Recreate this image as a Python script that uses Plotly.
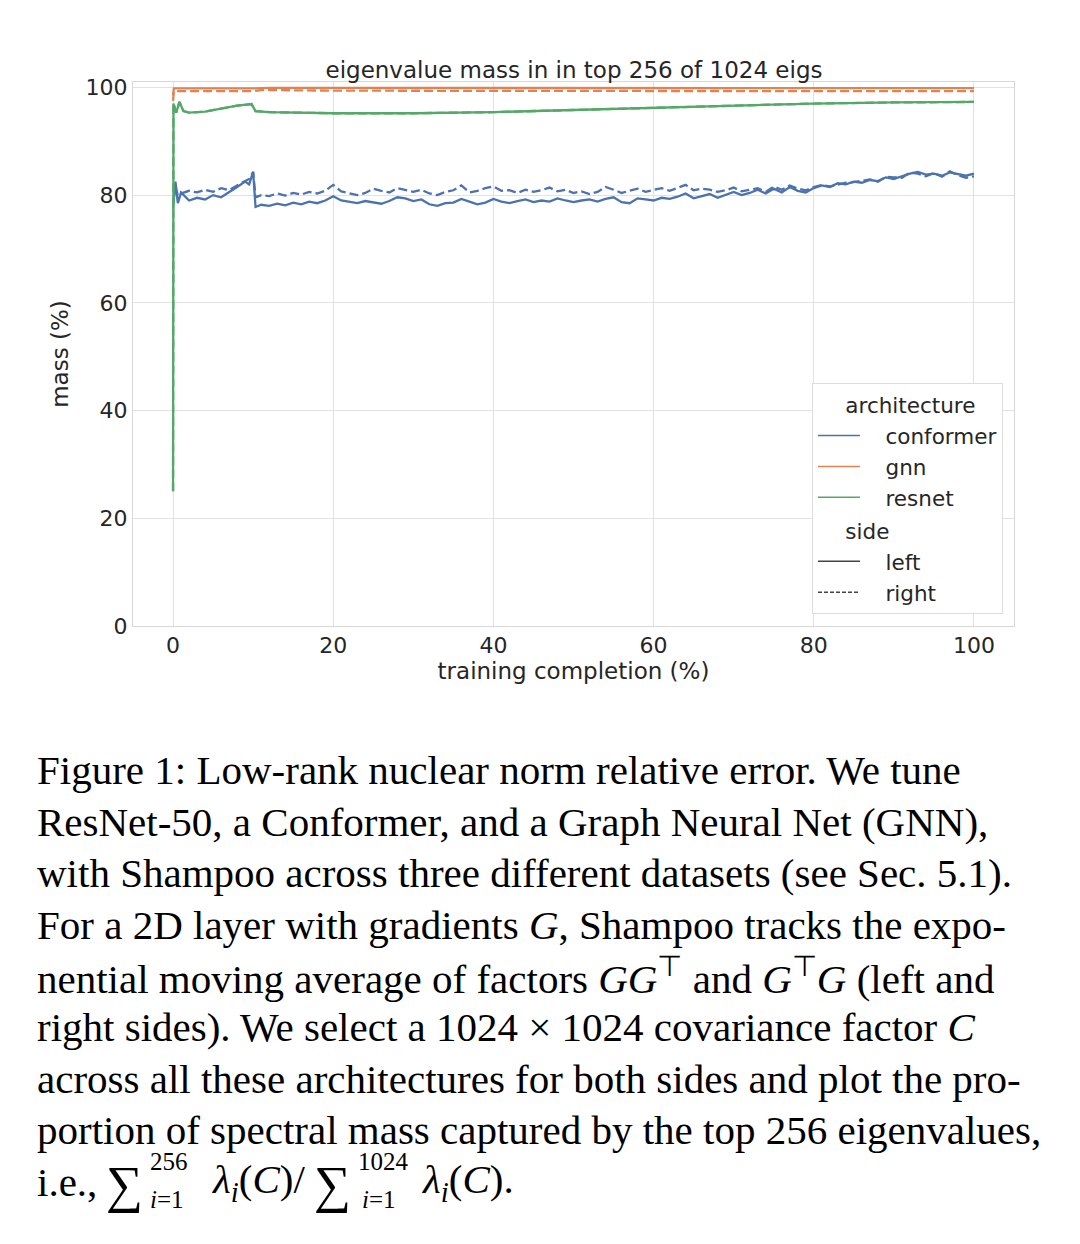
import plotly.graph_objects as go

# training completion (%) sample points
conf_x = [0, 0.3, 0.6, 1, 2, 3, 4, 5, 6, 7, 8, 9, 9.5, 10, 10.3, 11, 12, 13, 14, 15, 16, 17, 18, 19,
          20, 21, 22, 23, 24, 25, 26, 27, 28, 29, 30, 31, 32, 33, 34, 35, 36, 37, 38, 39,
          40, 41, 42, 43, 44, 45, 46, 47, 48, 49, 50, 51, 52, 53, 54, 55, 56, 57, 58, 59,
          60, 61, 62, 63, 64, 65, 66, 67, 68, 69, 70, 71, 72, 73, 74, 75, 76, 77, 78, 79,
          80, 81, 82, 83, 84, 85, 86, 87, 88, 89, 90, 91, 92, 93, 94, 95, 96, 97, 98, 99, 100]
conformer_left = [77.5, 82.5, 78.5, 80.5, 79.0, 79.5, 79.2, 80.0, 79.6, 80.5, 81.5, 82.5, 82.0, 84.3, 77.8,
                  78.2, 78.0, 78.4, 78.1, 78.6, 78.3, 78.8, 78.5, 79.0,
                  79.8, 79.0, 78.8, 78.5, 78.9, 78.6, 78.4, 78.9, 79.6, 79.4, 78.9, 79.2, 78.3, 78.0, 78.5, 78.6, 79.3, 78.8, 78.3, 78.6,
                  79.3, 78.8, 78.5, 78.9, 79.2, 78.7, 79.0, 78.8, 79.4, 79.0, 78.7, 79.0, 79.2, 78.8, 79.3, 79.6, 78.7, 78.5, 79.4, 79.2,
                  79.0, 79.5, 79.3, 79.7, 80.3, 79.4, 79.8, 80.2, 79.5, 80.0, 80.6, 80.0, 80.4, 81.0, 80.3, 81.2, 80.5, 81.5, 80.8, 80.5,
                  81.3, 81.8, 81.5, 82.2, 82.0, 82.5, 82.3, 82.8, 82.6, 83.3, 83.0, 83.5, 84.0, 84.3, 83.8, 84.0, 83.6, 84.2, 83.9, 83.6, 84.0]
conformer_right = [79.0, 81.5, 80.0, 80.3, 80.8, 80.5, 81.0, 80.6, 81.3, 80.9, 81.8, 82.5, 83.0, 84.3, 79.6,
                   80.0, 79.8, 80.3, 79.9, 80.4, 80.1, 80.6, 80.3, 80.8,
                   81.9, 80.7, 80.3, 80.0, 80.4, 81.2, 80.8, 80.5, 81.3, 80.9, 80.6, 81.0, 80.3, 80.0, 80.6, 80.9, 81.8, 80.5, 80.8, 81.3,
                   81.6, 80.8, 80.9, 80.4, 81.0, 80.6, 80.9, 81.4, 80.7, 81.0, 80.4, 80.7, 80.2, 80.6, 81.5, 81.0, 80.4, 80.8, 81.2, 80.6,
                   80.9, 81.3, 80.8, 81.4, 81.9, 80.9, 81.2, 81.0, 80.6, 80.9, 81.4, 80.7, 81.0, 81.3, 80.6, 81.6, 81.0, 81.8, 81.2, 80.9,
                   81.5, 81.9, 81.6, 82.0, 82.3, 82.4, 82.6, 82.9, 82.5, 83.4, 83.3, 83.2, 84.2, 84.0, 83.5, 84.1, 83.4, 84.4, 83.7, 83.2, 83.5]

resnet_x = [0, 0.05, 0.4, 0.8, 1.3, 2, 4, 6, 8, 9.8, 10.3, 12, 20, 30, 40, 50, 60, 70, 80, 90, 100]
resnet_left = [25.0, 97.0, 95.3, 97.3, 95.6, 95.3, 95.5, 96.0, 96.6, 96.9, 95.6, 95.4, 95.2, 95.2, 95.4, 95.8, 96.2, 96.7, 97.0, 97.2, 97.3]
resnet_right = [25.0, 97.0, 95.3, 97.3, 95.6, 95.3, 95.5, 96.0, 96.6, 96.9, 95.6, 95.4, 95.2, 95.2, 95.4, 95.8, 96.2, 96.7, 97.0, 97.2, 97.3]

gnn_x = [0, 0.1, 10, 11, 12, 20, 40, 60, 80, 100]
gnn_left = [98.5, 99.8, 99.8, 99.9, 99.9, 99.9, 99.85, 99.85, 99.85, 99.85]
gnn_right = [97.5, 99.3, 99.3, 99.5, 99.5, 99.4, 99.35, 99.35, 99.3, 99.3]

colors = {"conformer": "#4C72B0", "gnn": "#DD8452", "resnet": "#55A868"}
DASH = "9px,4px"
NB = "\u00a0"

fig = go.Figure()
series = [
    ("conformer", conf_x, conformer_left, conformer_right),
    ("gnn", gnn_x, gnn_left, gnn_right),
    ("resnet", resnet_x, resnet_left, resnet_right),
]
for name, xs, left, right in series:
    fig.add_trace(go.Scatter(x=xs, y=right, mode="lines", showlegend=False,
                             line=dict(color=colors[name], width=2.3, dash=DASH)))
    fig.add_trace(go.Scatter(x=xs, y=left, mode="lines", showlegend=False,
                             line=dict(color=colors[name], width=2.3)))

# legend entries
arch_title = NB * 4 + "architecture"
side_title = NB * 4 + "side"
for name in ["conformer", "gnn", "resnet"]:
    fig.add_trace(go.Scatter(x=[None], y=[None], mode="lines", name=NB * 3 + name,
                             legendgroup="architecture", legendgrouptitle_text=arch_title,
                             line=dict(color=colors[name], width=1.5)))
fig.add_trace(go.Scatter(x=[None], y=[None], mode="lines", name=NB * 3 + "left",
                         legendgroup="side", legendgrouptitle_text=side_title,
                         line=dict(color="#444444", width=1.5)))
fig.add_trace(go.Scatter(x=[None], y=[None], mode="lines", name=NB * 3 + "right",
                         legendgroup="side", legendgrouptitle_text=side_title,
                         line=dict(color="#444444", width=1.5, dash="4px,2px")))

# plot frame in screenshot pixels; the page body adds an 8px margin
OFF = 8
L, R, T, B = 133, 1014, 82, 626
W_PLOT, H_PLOT = R - L, B - T


def px(x):
    return (x - L) / W_PLOT


def py(y):
    return (B - y) / H_PLOT


caption = [
    "Figure 1: Low-rank nuclear norm relative error. We tune",
    "ResNet-50, a Conformer, and a Graph Neural Net (GNN),",
    "with Shampoo across three different datasets (see Sec. 5.1).",
    "For a 2D layer with gradients <i>G</i>, Shampoo tracks the expo-",
    "nential moving average of factors <i>GG</i><sup>⊤</sup> and <i>G</i><sup>⊤</sup><i>G</i> (left and",
    "right sides). We select a 1024 × 1024 covariance factor <i>C</i>",
    "across all these architectures for both sides and plot the pro-",
    "portion of spectral mass captured by the top 256 eigenvalues,",
]
line_y = [770, 822, 873, 925, 976, 1027, 1079, 1130]
serif = "Liberation Serif"
cap_size = 41
annotations = []
for txt, yy in zip(caption, line_y):
    annotations.append(dict(text=txt, x=px(35), y=py(yy), xref="paper", yref="paper",
                            xanchor="left", yanchor="middle", showarrow=False,
                            font=dict(family=serif, size=cap_size, color="black")))

# last line with stacked sum limits
last = [
    ("i.e.,", 35, 1182, cap_size),
    ("∑", 104, 1185, 52),
    ("256", 148, 1161, 25),
    ("<i>i</i>=1", 148, 1199, 25),
    ("<i>λ<sub>i</sub></i>(<i>C</i>)/", 210, 1182, cap_size),
    ("∑", 312, 1185, 52),
    ("1024", 356, 1161, 25),
    ("<i>i</i>=1", 360, 1199, 25),
    ("<i>λ<sub>i</sub></i>(<i>C</i>).", 420, 1182, cap_size),
]
for txt, xx, yy, sz in last:
    annotations.append(dict(text=txt, x=px(xx), y=py(yy), xref="paper", yref="paper",
                            xanchor="left", yanchor="middle", showarrow=False,
                            font=dict(family=serif, size=sz, color="black")))

fig.update_layout(
    width=1080, height=1244,
    margin=dict(l=L - OFF, r=1080 - R + OFF, t=T - OFF, b=1244 - B + OFF),
    paper_bgcolor="white", plot_bgcolor="white",
    font=dict(family="DejaVu Sans", size=22, color="#262626"),
    title=dict(text="eigenvalue mass in in top 256 of 1024 eigs", x=(574 - OFF) / 1080, xanchor="center",
               y=1 - (70 - OFF) / 1244, yanchor="middle", font=dict(size=23, color="#262626")),
    legend=dict(x=px(1003), y=py(614), xanchor="right", yanchor="bottom",
                bgcolor="white", bordercolor="#dddddd", borderwidth=1,
                font=dict(size=21.5, color="#262626"), grouptitlefont=dict(size=21.5),
                tracegroupgap=2, itemwidth=42),
    annotations=annotations,
)
fig.update_xaxes(range=[-5, 105], tickvals=[0, 20, 40, 60, 80, 100], showgrid=True,
                 gridcolor="#e2e2e2", gridwidth=1, zeroline=False, showline=True, mirror=True,
                 linecolor="#d8d8d8", linewidth=1, ticks="", tickfont=dict(size=22),
                 title=dict(text="training completion (%)", standoff=2, font=dict(size=23)))
fig.update_yaxes(range=[0, 101], tickvals=[0, 20, 40, 60, 80, 100], showgrid=True,
                 gridcolor="#e2e2e2", gridwidth=1, zeroline=False, showline=True, mirror=True,
                 linecolor="#d8d8d8", linewidth=1, ticks="", tickfont=dict(size=22),
                 title=dict(text="mass (%)", standoff=10, font=dict(size=23)))

fig.write_html("out.html")
